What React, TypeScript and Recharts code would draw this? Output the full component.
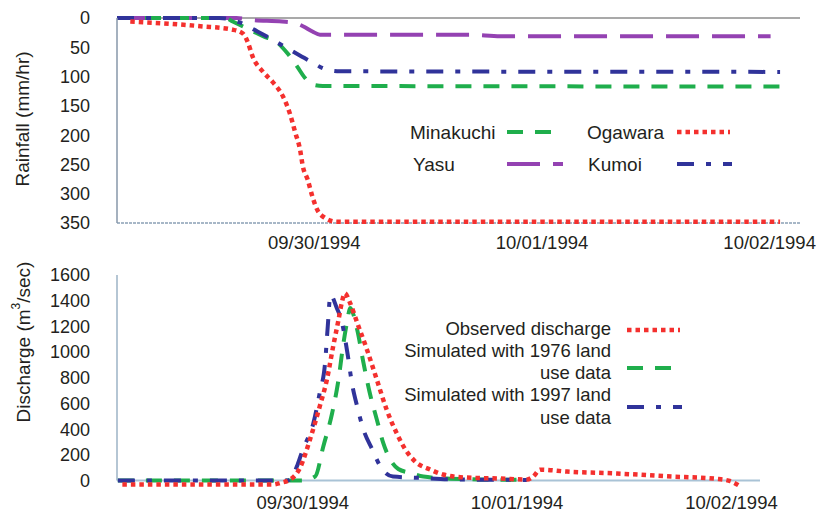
import React from "react";
import { LineChart, Line, XAxis, YAxis, ReferenceLine, Legend } from "recharts";

const FONT = '"Liberation Sans", Arial, Helvetica, sans-serif';
const TEXT = "#231f20";

const RED = "#f4302e";
const GREEN = "#1fae4c";
const PURPLE = "#9442b2";
const BLUE = "#30339a";

// x axis: hours after 09/30/1994 00:00
const X_DOMAIN: [number, number] = [-20.8, 51.2];
const dateHours = [0, 24, 48];
const dateLabels = ["09/30/1994", "10/01/1994", "10/02/1994"];

const rainTicks = [0, 50, 100, 150, 200, 250, 300, 350];
const dischargeTicks = [0, 200, 400, 600, 800, 1000, 1200, 1400, 1600];

// rainfall (mm)
const ogawaraHours = [-19.4, -12.0, -8.6, -7.5, -7.0, -6.5, -5.4, -4.4, -3.3, -2.6, -2.0, -1.5, -1.2, -0.7, -0.2, 0.3, 1.1, 2.4, 49.1];
const ogawaraRain = [6, 14, 20, 27, 42, 66, 92, 109, 134, 162, 196, 225, 254, 276, 305, 327, 341, 348, 348];

const yasuHours = [-20.8, -8.2, -6.8, -3.4, -2.2, -1.2, -0.2, 0.6, 16.4, 19.6, 48.1];
const yasuRain = [0, 0, 3, 6, 8, 14, 23, 28.5, 28.5, 31, 31];

const minakuchiHours = [-20.8, -9.4, -8.6, -6.8, -5.4, -3.9, -2.9, -1.8, -1.0, -0.1, 0.9, 49.1];
const minakuchiRain = [0, 0, 6, 20, 31, 42, 59, 83, 102, 114, 116, 117];

const kumoiHours = [-20.8, -10.0, -7.8, -6.0, -4.4, -2.6, -1.3, -0.2, 1.1, 2.7, 49.1];
const kumoiRain = [0, 0, 8, 23, 37, 54, 66, 76, 87, 91, 92];

// discharge (m3/sec), bottom panel
const observedHours = [-20.2, -3.3, -2.5, -1.4, -0.3, 0.8, 1.9, 2.7, 3.4, 4.0, 4.4, 4.7, 5.3, 6.1, 7.2, 8.3, 9.4, 10.6, 11.5, 12.6, 14.3, 15.7, 18.4, 22.1, 25.1, 25.8, 26.6, 29.6, 35.2, 40.8, 46.4, 47.9, 49.0];
const observedQ = [-31, -31, -18, 8, 100, 318, 577, 785, 1043, 1250, 1393, 1458, 1382, 1227, 1017, 784, 551, 357, 241, 148, 85, 47, 23, 16, 8, 31, 85, 70, 55, 33, 13, -5, -45];

const sim1976Hours = [-20.7, 0.0, 1.4, 2.3, 3.3, 4.0, 4.5, 5.0, 5.3, 6.1, 6.8, 7.5, 8.3, 9.0, 9.8, 10.7, 12.0, 13.5, 16.5, 21.0, 25.1];
const sim1976Q = [0, 0, 33, 266, 528, 785, 1043, 1250, 1343, 1173, 916, 683, 474, 295, 163, 90, 60, 31, 15, 8, 5];

const sim1997Hours = [-20.7, -1.8, -1.4, -0.6, 0.0, 1.2, 1.9, 2.5, 2.8, 3.1, 3.8, 4.4, 5.0, 5.5, 6.1, 6.8, 7.8, 8.7, 10.1, 13.1, 16.5, 25.1];
const sim1997Q = [0, 0, 10, 120, 241, 450, 683, 916, 1200, 1445, 1345, 1227, 994, 761, 575, 396, 241, 109, 31, 21, 10, 5];

const pts = (hours: number[], vals: number[]) => hours.map((h, i) => ({ h, v: vals[i] }));

const fmtDate = (h: number) => dateLabels[dateHours.indexOf(h)] ?? "";

const DASH = {
  red: "4.5 4",
  green: "16 12",
  purple: "33 13",
  blue: "17 12 5 12",
};

const txt = { fontFamily: FONT, fill: TEXT };

const RainTitle = () => (
  <text x={22} y={119} transform="rotate(-90 22 119)" textAnchor="middle" dominantBaseline="central" fontSize={19} {...txt}>
    Rainfall (mm/hr)
  </text>
);

// bottom chart svg starts at y=262
const DischargeTitle = () => (
  <text x={23} y={80} transform="rotate(-90 23 80)" textAnchor="middle" dominantBaseline="central" fontSize={19} {...txt}>
    <tspan>Discharge (m</tspan>
    <tspan dy={-7} fontSize={12}>3</tspan>
    <tspan dy={7}>/sec)</tspan>
  </text>
);

const sample = (x1: number, x2: number, y: number, color: string, dash: string, w = 4) => (
  <line x1={x1} x2={x2} y1={y} y2={y} stroke={color} strokeWidth={w} strokeDasharray={dash} />
);

const RainLegend = () => (
  <svg width={820} height={262} style={{ display: "block" }}>
    <text x={410} y={139} fontSize={19} {...txt}>Minakuchi</text>
    {sample(507, 553, 132, GREEN, DASH.green)}
    <text x={587} y={139} fontSize={19} {...txt}>Ogawara</text>
    {sample(677, 730, 132, RED, DASH.red, 4.5)}
    <text x={413} y={171} fontSize={19} {...txt}>Yasu</text>
    {sample(507, 563, 164, PURPLE, DASH.purple)}
    <text x={588} y={171} fontSize={19} {...txt}>Kumoi</text>
    {sample(677, 732, 164, BLUE, DASH.blue)}
  </svg>
);

const DischargeLegend = () => (
  <svg width={820} height={253} style={{ display: "block" }}>
    <g transform="translate(0,-262)">
      <g textAnchor="end">
        <text x={611} y={335} fontSize={18.5} {...txt}>Observed discharge</text>
        <text x={611} y={357} fontSize={18.5} {...txt}>Simulated with 1976 land</text>
        <text x={611} y={379} fontSize={18.5} {...txt}>use data</text>
        <text x={611} y={401} fontSize={18.5} {...txt}>Simulated with 1997 land</text>
        <text x={611} y={424} fontSize={18.5} {...txt}>use data</text>
      </g>
      {sample(627, 680, 330, RED, DASH.red, 4.5)}
      {sample(627, 672, 368, GREEN, DASH.green)}
      {sample(627, 682, 407, BLUE, DASH.blue)}
    </g>
  </svg>
);

export default function App() {
  return (
    <div style={{ position: "absolute", left: 0, top: 0, width: 820, height: 515, background: "#fff" }}>
      <div style={{ position: "absolute", left: 0, top: 0 }}>
        <LineChart width={820} height={262} margin={{ top: 18, right: 20, left: 17, bottom: 9 }}>
          <XAxis
            dataKey="h"
            type="number"
            domain={X_DOMAIN}
            allowDataOverflow
            ticks={dateHours}
            tickFormatter={fmtDate}
            axisLine={false}
            tickLine={false}
            tickSize={0}
            tickMargin={13}
            height={30}
            interval={0}
            tick={{ fontSize: 18.5, fill: TEXT, fontFamily: FONT }}
          />
          <YAxis
            type="number"
            reversed
            domain={[0, 350]}
            ticks={rainTicks}
            width={100}
            interval={0}
            axisLine={{ stroke: "#8797aa", strokeWidth: 1.5 }}
            tickLine={false}
            tickSize={0}
            tickMargin={27}
            tick={{ fontSize: 18, fill: TEXT, fontFamily: FONT }}
            label={{ content: () => <RainTitle /> }}
          />
          <ReferenceLine y={0} stroke="#555" strokeWidth={1.2} />
          <ReferenceLine y={350} stroke="#8aa0b5" strokeWidth={1.5} strokeDasharray="3 1" />
          <Line data={pts(yasuHours, yasuRain)} dataKey="v" type="monotone" stroke={PURPLE} strokeWidth={4} strokeDasharray={DASH.purple} dot={false} isAnimationActive={false} />
          <Line data={pts(minakuchiHours, minakuchiRain)} dataKey="v" type="monotone" stroke={GREEN} strokeWidth={4} strokeDasharray={DASH.green} dot={false} isAnimationActive={false} />
          <Line data={pts(kumoiHours, kumoiRain)} dataKey="v" type="monotone" stroke={BLUE} strokeWidth={4} strokeDasharray={DASH.blue} dot={false} isAnimationActive={false} />
          <Line data={pts(ogawaraHours, ogawaraRain)} dataKey="v" type="monotone" stroke={RED} strokeWidth={4.5} strokeDasharray={DASH.red} dot={false} isAnimationActive={false} />
          <Legend
            layout="horizontal"
            verticalAlign="middle"
            align="center"
            content={() => <RainLegend />}
            wrapperStyle={{ left: 0, top: 0, width: 820, height: 262, pointerEvents: "none" }}
          />
        </LineChart>
      </div>
      <div style={{ position: "absolute", left: 0, top: 262 }}>
        <LineChart width={820} height={253} margin={{ top: 13, right: 60, left: 17, bottom: 4 }}>
          <XAxis
            dataKey="h"
            type="number"
            domain={X_DOMAIN}
            allowDataOverflow
            ticks={dateHours}
            tickFormatter={fmtDate}
            axisLine={false}
            tickLine={false}
            tickSize={0}
            tickMargin={9}
            height={24}
            interval={0}
            tick={{ fontSize: 18.5, fill: TEXT, fontFamily: FONT }}
          />
          <YAxis
            type="number"
            domain={[-50, 1600]}
            ticks={dischargeTicks}
            width={100}
            interval={0}
            axisLine={false}
            tickLine={false}
            tickSize={0}
            tickMargin={27}
            tick={{ fontSize: 18, fill: TEXT, fontFamily: FONT }}
            label={{ content: () => <DischargeTitle /> }}
          />
          <ReferenceLine
            segment={[{ x: X_DOMAIN[0], y: 0 }, { x: X_DOMAIN[0], y: 1600 }]}
            stroke="#9db3c6"
            strokeWidth={1.5}
          />
          <ReferenceLine y={0} stroke="#a9c3d6" strokeWidth={2} />
          <Line data={pts(sim1976Hours, sim1976Q)} dataKey="v" type="monotone" stroke={GREEN} strokeWidth={4} strokeDasharray={DASH.green} dot={false} isAnimationActive={false} />
          <Line data={pts(sim1997Hours, sim1997Q)} dataKey="v" type="monotone" stroke={BLUE} strokeWidth={4} strokeDasharray={DASH.blue} dot={false} isAnimationActive={false} />
          <Line data={pts(observedHours, observedQ)} dataKey="v" type="monotone" stroke={RED} strokeWidth={4.5} strokeDasharray={DASH.red} dot={false} isAnimationActive={false} />
          <Legend
            layout="horizontal"
            verticalAlign="middle"
            align="center"
            content={() => <DischargeLegend />}
            wrapperStyle={{ left: 0, top: 0, width: 820, height: 253, pointerEvents: "none" }}
          />
        </LineChart>
      </div>
    </div>
  );
}
